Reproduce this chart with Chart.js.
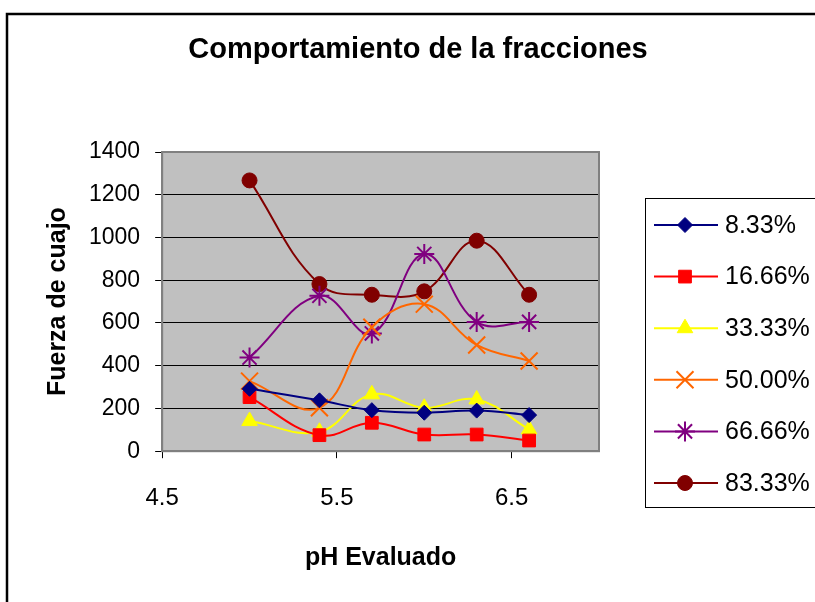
<!DOCTYPE html>
<html>
<head>
<meta charset="utf-8">
<script src="https://cdn.jsdelivr.net/npm/chart.js@4/dist/chart.umd.min.js"></script>
<style>
  html, body { margin: 0; padding: 0; background: #fff; }
  #wrap { width: 815px; height: 602px; }
</style>
</head>
<body>
<div id="wrap"><canvas id="chart" width="815" height="602"></canvas></div>
<script>
// datos
const phValues = [5.0, 5.4, 5.7, 6.0, 6.3, 6.6];
const seriesNames = ['8.33%', '16.66%', '33.33%', '50.00%', '66.66%', '83.33%'];
const f833 = [292, 238, 192, 180, 190, 169];
const f1666 = [253, 75, 133, 78, 78, 50];
const f3333 = [141, 91, 266, 203, 242, 102];
const f5000 = [328, 203, 580, 688, 497, 422];
const f6666 = [438, 727, 551, 923, 605, 605];
const f8333 = [1267, 782, 732, 748, 985, 732];
const xTicks = [4.5, 5.5, 6.5];
const yTicks = [0, 200, 400, 600, 800, 1000, 1200, 1400];

const FONT = '"Liberation Sans", Arial, sans-serif';
const colors = ['#000080', '#FF0000', '#FFFF00', '#FF6600', '#800080', '#800000'];
const markers = ['rectRot', 'rect', 'triangle', 'crossRot', 'star', 'circle'];
const radii = [7.5, 9, 9, 12, 10, 7.5];
const allValues = [f833, f1666, f3333, f5000, f6666, f8333];

const datasets = allValues.map((vals, i) => ({
    label: seriesNames[i],
    data: vals.map((v, j) => ({ x: phValues[j], y: v })),
    borderColor: colors[i],
    backgroundColor: colors[i],
    borderWidth: 2,
    tension: 0.4,
    pointStyle: markers[i],
    pointRadius: radii[i],
    pointBorderWidth: (markers[i] === 'crossRot' || markers[i] === 'star') ? 2 : 1,
    pointBorderColor: colors[i],
    pointBackgroundColor: colors[i]
}));

// fondo, marco, titulo y leyenda estilo Excel
const excelLook = {
    id: 'excelLook',
    beforeDraw(chart) {
        const { ctx, chartArea: a } = chart;
        ctx.save();
        ctx.fillStyle = '#fff';
        ctx.fillRect(0, 0, chart.width, chart.height);
        ctx.fillStyle = '#C0C0C0';
        ctx.fillRect(a.left, a.top, a.right - a.left, a.bottom - a.top);
        // borde exterior
        ctx.strokeStyle = '#000';
        ctx.lineWidth = 2.5;
        ctx.beginPath();
        ctx.moveTo(7, chart.height + 2);
        ctx.lineTo(7, 14);
        ctx.lineTo(chart.width + 2, 14);
        ctx.stroke();
        ctx.restore();
    },
    beforeDatasetsDraw(chart) {
        const { ctx, chartArea: a } = chart;
        ctx.save();
        ctx.strokeStyle = '#808080';
        ctx.lineWidth = 2;
        ctx.strokeRect(a.left, a.top, a.right - a.left, a.bottom - a.top);
        ctx.restore();
    },
    afterDraw(chart) {
        const { ctx } = chart;
        ctx.save();
        // titulo
        ctx.fillStyle = '#000';
        ctx.font = 'bold 29px ' + FONT;
        ctx.textAlign = 'center';
        ctx.textBaseline = 'alphabetic';
        ctx.fillText('Comportamiento de la fracciones', 418, 58);

        // leyenda
        ctx.strokeStyle = '#000';
        ctx.lineWidth = 1;
        ctx.strokeRect(645.5, 198.5, 200, 309);
        chart.data.datasets.forEach((ds, i) => {
            const y = 225 + i * 51.6;
            ctx.strokeStyle = ds.borderColor;
            ctx.lineWidth = 2;
            ctx.beginPath();
            ctx.moveTo(654, y);
            ctx.lineTo(718, y);
            ctx.stroke();
            ctx.fillStyle = ds.pointBackgroundColor;
            ctx.strokeStyle = ds.pointBorderColor;
            ctx.lineWidth = ds.pointBorderWidth;
            Chart.helpers.drawPoint(ctx, {
                pointStyle: ds.pointStyle, rotation: 0,
                radius: ds.pointRadius, borderWidth: ds.pointBorderWidth
            }, 685, y);
            ctx.fillStyle = '#000';
            ctx.font = '25px ' + FONT;
            ctx.textAlign = 'left';
            ctx.textBaseline = 'middle';
            ctx.fillText(ds.label, 725, y + 1);
        });
        ctx.restore();
    }
};

new Chart(document.getElementById('chart'), {
    type: 'line',
    data: { datasets },
    plugins: [excelLook],
    options: {
        responsive: false,
        animation: false,
        layout: { padding: { top: 152, right: 216, bottom: 25, left: 30 } },
        plugins: {
            legend: { display: false },
            title: { display: false },
            tooltip: { enabled: false }
        },
        scales: {
            x: {
                type: 'linear',
                min: 4.5,
                max: 7,
                afterBuildTicks: s => { s.ticks = xTicks.map(v => ({ value: v })); },
                grid: { drawOnChartArea: false, color: '#000', tickLength: 7 },
                border: { color: '#808080', width: 2 },
                ticks: {
                    color: '#000',
                    padding: 26,
                    font: { family: FONT, size: 24 },
                    callback: v => v.toFixed(1)
                },
                title: {
                    display: true,
                    text: 'pH Evaluado',
                    color: '#000',
                    font: { family: FONT, size: 25, weight: 'bold' },
                    padding: { top: 4, bottom: 4 }
                }
            },
            y: {
                min: 0,
                max: 1400,
                afterBuildTicks: s => { s.ticks = yTicks.map(v => ({ value: v })); },
                grid: { color: '#000', lineWidth: 1, tickLength: 7 },
                border: { color: '#808080', width: 2 },
                ticks: {
                    color: '#000',
                    padding: 15,
                    font: { family: FONT, size: 23 },
                    callback: v => String(v)
                },
                title: {
                    display: true,
                    text: 'Fuerza de cuajo',
                    color: '#000',
                    font: { family: FONT, size: 25, weight: 'bold' },
                    padding: { top: 13, bottom: 1 }
                }
            }
        }
    }
});
</script>
</body>
</html>
